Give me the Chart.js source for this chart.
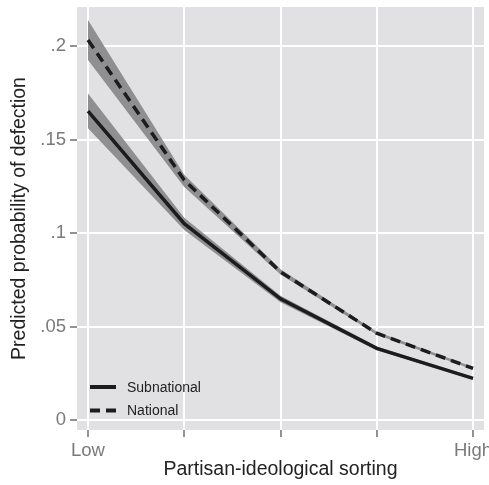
<!DOCTYPE html>
<html>
<head>
<meta charset="utf-8">
<script src="https://cdn.jsdelivr.net/npm/chart.js@4/dist/chart.umd.min.js"></script>
<style>
    html, body { margin: 0; padding: 0; background: #ffffff; }
    canvas { display: block; }
</style>
</head>
<body>
<canvas id="defectionChart" width="489" height="485"></canvas>
<script>
const sortingLevels = [0, 1, 2, 3, 4];
const sortingLabels = ["Low", "", "", "", "High"];
const yTickValues = [0, 0.05, 0.1, 0.15, 0.2];
const yTickLabels = ["0", ".05", ".1", ".15", ".2"];

const subnational = [0.1652, 0.1050, 0.0648, 0.0383, 0.0223];
const subnationalLow = [0.1560, 0.1016, 0.0630, 0.0373, 0.0216];
const subnationalHigh = [0.1747, 0.1082, 0.0664, 0.0393, 0.0230];

const national = [0.2032, 0.1283, 0.0792, 0.0464, 0.0276];
const nationalLow = [0.1925, 0.1246, 0.0778, 0.0456, 0.0270];
const nationalHigh = [0.2139, 0.1312, 0.0806, 0.0472, 0.0283];

const FONT = "'Liberation Sans', Arial, Helvetica, sans-serif";
const bandColor = "#8f8f91";
const lineColor = "#1c1c1c";

function points(values) {
    return values.map((v, i) => ({ x: sortingLevels[i], y: v }));
}

const panelBackground = {
    id: "panelBackground",
    beforeDraw(chart) {
        const { ctx, chartArea } = chart;
        ctx.save();
        ctx.fillStyle = "#e1e1e3";
        ctx.fillRect(chartArea.left, chartArea.top, chartArea.right - chartArea.left, chartArea.bottom - chartArea.top);
        ctx.restore();
    }
};

const insideLegend = {
    id: "insideLegend",
    afterDatasetsDraw(chart) {
        const { ctx, chartArea } = chart;
        const items = chart.data.datasets.filter(ds => ds.showInLegend);
        ctx.save();
        ctx.font = `14px ${FONT}`;
        ctx.textBaseline = "middle";
        items.forEach((ds, i) => {
            const y = chartArea.top + 380 + i * 23.5;
            const x = chartArea.left + 13;
            ctx.strokeStyle = ds.borderColor;
            ctx.lineWidth = 4;
            ctx.setLineDash(ds.borderDash || []);
            ctx.beginPath();
            ctx.moveTo(x, y);
            ctx.lineTo(x + 26, y);
            ctx.stroke();
            ctx.setLineDash([]);
            ctx.fillStyle = "#222222";
            ctx.fillText(ds.label, x + 37, y + 1);
        });
        ctx.restore();
    }
};

new Chart(document.getElementById("defectionChart"), {
    type: "line",
    data: {
        datasets: [
            {
                label: "Subnational",
                data: points(subnational),
                borderColor: lineColor,
                borderWidth: 3.5,
                fill: false,
                order: 0,
                showInLegend: true
            },
            {
                label: "National",
                data: points(national),
                borderColor: lineColor,
                borderWidth: 3.5,
                borderDash: [10, 6],
                fill: false,
                order: 0,
                showInLegend: true
            },
            {
                label: "subLow",
                data: points(subnationalLow),
                borderWidth: 0,
                borderColor: "rgba(0,0,0,0)",
                fill: false,
                order: 2
            },
            {
                label: "subHigh",
                data: points(subnationalHigh),
                borderWidth: 0,
                borderColor: "rgba(0,0,0,0)",
                backgroundColor: bandColor,
                fill: 2,
                order: 2
            },
            {
                label: "natLow",
                data: points(nationalLow),
                borderWidth: 0,
                borderColor: "rgba(0,0,0,0)",
                fill: false,
                order: 1
            },
            {
                label: "natHigh",
                data: points(nationalHigh),
                borderWidth: 0,
                borderColor: "rgba(0,0,0,0)",
                backgroundColor: bandColor,
                fill: 4,
                order: 1
            }
        ]
    },
    options: {
        responsive: false,
        animation: false,
        devicePixelRatio: 1,
        layout: { padding: { top: 7, right: 5, left: 0, bottom: 0 } },
        elements: {
            point: { radius: 0, hoverRadius: 0 },
            line: { tension: 0, borderCapStyle: "butt", borderJoinStyle: "miter" }
        },
        plugins: {
            legend: { display: false },
            tooltip: { enabled: false },
            filler: { propagate: false }
        },
        scales: {
            x: {
                type: "linear",
                min: -0.1143,
                max: 4.114,
                afterBuildTicks(scale) {
                    scale.ticks = sortingLevels.map(v => ({ value: v }));
                },
                afterFit(scale) {
                    scale.height = 55;
                    scale.paddingLeft = 0;
                    scale.paddingRight = 0;
                },
                ticks: {
                    autoSkip: false,
                    maxRotation: 0,
                    padding: 3,
                    color: "#7a7a7a",
                    font: { family: FONT, size: 18.5 },
                    callback: value => sortingLabels[value] ?? ""
                },
                grid: {
                    color: "#ffffff",
                    lineWidth: 2,
                    tickLength: 7,
                    tickColor: "#6e6e6e",
                    tickWidth: 1.5
                },
                border: { display: false },
                title: {
                    display: true,
                    text: "Partisan-ideological sorting",
                    color: "#222222",
                    font: { family: FONT, size: 19.5 },
                    padding: { top: 0, bottom: 4 }
                }
            },
            y: {
                type: "linear",
                min: -0.00535,
                max: 0.2209,
                afterBuildTicks(scale) {
                    scale.ticks = yTickValues.map(v => ({ value: v }));
                },
                afterFit(scale) {
                    scale.width = 77;
                    scale.paddingTop = 0;
                    scale.paddingBottom = 0;
                },
                ticks: {
                    padding: 4,
                    color: "#7a7a7a",
                    font: { family: FONT, size: 18.5 },
                    callback: value => {
                        const i = yTickValues.findIndex(v => Math.abs(v - value) < 1e-9);
                        return i >= 0 ? yTickLabels[i] : "";
                    }
                },
                grid: {
                    color: "#ffffff",
                    lineWidth: 2,
                    tickLength: 7,
                    tickColor: "#6e6e6e",
                    tickWidth: 1.5
                },
                border: { display: false },
                title: {
                    display: true,
                    text: "Predicted probability of defection",
                    color: "#222222",
                    font: { family: FONT, size: 19.5 },
                    padding: { top: 8, bottom: 0 }
                }
            }
        }
    },
    plugins: [panelBackground, insideLegend]
});
</script>
</body>
</html>
